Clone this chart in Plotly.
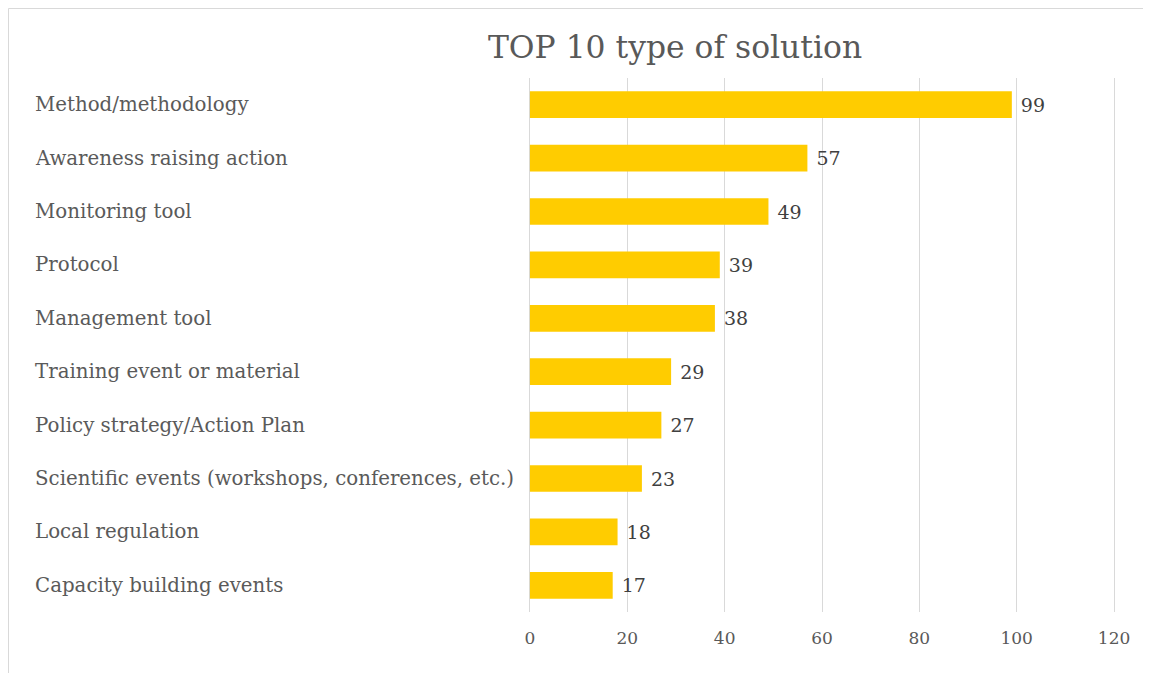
import plotly.graph_objects as go

categories = [
    "Method/methodology",
    "Awareness raising action",
    "Monitoring tool",
    "Protocol",
    "Management tool",
    "Training event or material",
    "Policy strategy/Action Plan",
    "Scientific events (workshops, conferences, etc.)",
    "Local regulation",
    "Capacity building events",
]
values = [99, 57, 49, 39, 38, 29, 27, 23, 18, 17]
x_ticks = [0, 20, 40, 60, 80, 100, 120]

# page has an 8px body margin; figure coordinates are page coordinates minus 8
W, H = 1143, 665
L, R, T, B = 520, 35, 70, 61
pw, ph = W - L - R, H - T - B

FONT = "DejaVu Serif"

fig = go.Figure()
fig.add_trace(go.Bar(
    y=categories,
    x=values,
    orientation="h",
    marker=dict(color="#FFCC00", line=dict(width=0)),
    text=[" " + str(v) for v in values],
    textposition="outside",
    textfont=dict(family=FONT, size=19, color="#404040"),
    cliponaxis=False,
    hoverinfo="skip",
))

annotations = [
    dict(x=(25 - L) / pw, xref="paper", y=c, yref="y", text=c, showarrow=False,
         xanchor="left", yanchor="middle",
         font=dict(family=FONT, size=19.8, color="#5a5a5a"))
    for c in categories
]

shapes = [
    dict(type="line", xref="paper", yref="paper",
         x0=(0.5 - L) / pw, x1=(W - L) / pw, y0=(H - B - 0.5) / ph, y1=(H - B - 0.5) / ph,
         line=dict(color="#D9D9D9", width=1)),
    dict(type="line", xref="paper", yref="paper",
         x0=(0.5 - L) / pw, x1=(0.5 - L) / pw, y0=(H - B - 0.5) / ph, y1=-B / ph,
         line=dict(color="#D9D9D9", width=1)),
]

fig.update_layout(
    width=W, height=H,
    margin=dict(l=L, r=R, t=T, b=B),
    paper_bgcolor="white", plot_bgcolor="white",
    title=dict(text="TOP 10 type of solution", x=(675 - 8) / W, xanchor="center",
               y=1 - (47 - 8) / H, yanchor="middle",
               font=dict(family=FONT, size=31.4, color="#595959")),
    bargap=0.5,
    showlegend=False,
    annotations=annotations,
    shapes=shapes,
    xaxis=dict(range=[-0.4, 120.4], tickvals=x_ticks, showgrid=True, gridcolor="#D9D9D9",
               gridwidth=1, zeroline=False, showline=False, ticks="",
               tickfont=dict(family=FONT, size=17, color="#595959"), ticklabelstandoff=14),
    yaxis=dict(autorange="reversed", showticklabels=False, showgrid=False,
               zeroline=False, showline=False, ticks=""),
)

fig.write_html("out.html")
